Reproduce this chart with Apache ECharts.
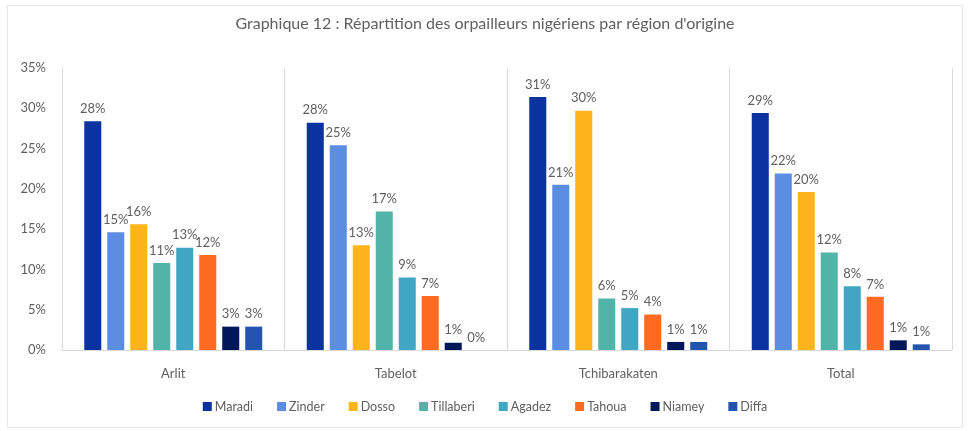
<!DOCTYPE html>
<html>
<head>
<meta charset="utf-8">
<script src="https://cdn.jsdelivr.net/npm/echarts@6/dist/echarts.min.js"></script>
<style>
  html, body { margin: 0; padding: 0; background: #fff; }
  #chart { width: 970px; height: 431px; }
</style>
</head>
<body>
<div id="chart"></div>
<script>
/* Graphique 12 : répartition des orpailleurs nigériens par région d'origine.
   Barres groupées par site, une série par région, valeurs en %. */

const sites = ['Arlit', 'Tabelot', 'Tchibarakaten', 'Total'];
const regions = ['Maradi', 'Zinder', 'Dosso', 'Tillaberi', 'Agadez', 'Tahoua', 'Niamey', 'Diffa'];

// valeurs (en %), une liste par région, dans l'ordre des sites
const maradi    = [28.4, 28.2, 31.4, 29.4];
const zinder    = [14.6, 25.4, 20.5, 21.9];
const dosso     = [15.6, 13.0, 29.7, 19.6];
const tillaberi = [10.8, 17.2,  6.4, 12.1];
const agadez    = [12.7,  9.0,  5.2,  7.9];
const tahoua    = [11.8,  6.7,  4.4,  6.6];
const niamey    = [ 2.9,  0.9,  1.0,  1.2];
const diffa     = [ 2.9,  0.0,  1.0,  0.7];

const yTicks = [0, 5, 10, 15, 20, 25, 30, 35];

const values = [maradi, zinder, dosso, tillaberi, agadez, tahoua, niamey, diffa];
const palette = ['#0a33a0', '#5b8de2', '#ffb31c', '#52b4a8', '#41a6c4', '#ff6a23', '#00185a', '#2354ae'];

const FONT = 'Lato, "Open Sans", sans-serif';
const INK = '#606060';

const chart = echarts.init(document.getElementById('chart'), null, { renderer: 'canvas' });

chart.setOption({
  animation: false,
  color: palette,
  title: {
    text: 'Graphique 12 : Répartition des orpailleurs nigériens par région d\'origine',
    left: 'center', top: 11,
    textStyle: { color: INK, fontFamily: FONT, fontSize: 16, fontWeight: 'normal' },
  },
  legend: {
    data: regions,
    bottom: 13, left: 'center',
    itemWidth: 9, itemHeight: 9, itemGap: 24,
    icon: 'rect',
    textStyle: { color: INK, fontFamily: FONT, fontSize: 12.5, padding: [0, 0, 0, -2] },
  },
  graphic: [{
    type: 'rect', silent: true, z: -1,
    shape: { x: 7.5, y: 5.5, width: 955, height: 422 },
    style: { fill: 'none', stroke: '#e6e6e6', lineWidth: 1 },
  }],
  grid: { left: 62, right: 18, top: 68, bottom: 81 },
  xAxis: {
    type: 'category',
    data: sites,
    axisLine: { lineStyle: { color: '#d9d9d9' } },
    axisTick: { show: false },
    splitLine: { show: true, lineStyle: { color: '#d9d9d9' } },
    axisLabel: { color: INK, fontFamily: FONT, fontSize: 13, margin: 17 },
  },
  yAxis: {
    type: 'value',
    min: yTicks[0], max: yTicks[yTicks.length - 1], interval: 5,
    axisLine: { show: false },
    axisTick: { show: false },
    splitLine: { show: false },
    axisLabel: { color: INK, fontFamily: FONT, fontSize: 13, margin: 16, formatter: '{value}%' },
  },
  series: regions.map((name, i) => ({
    name,
    type: 'bar',
    data: values[i],
    barGap: '35%',
    barCategoryGap: '20%',
    label: {
      show: true, position: 'top', distance: 6,
      color: INK, fontFamily: FONT, fontSize: 13,
      formatter: p => Math.round(p.value) + '%',
    },
  })),
});
</script>
</body>
</html>
